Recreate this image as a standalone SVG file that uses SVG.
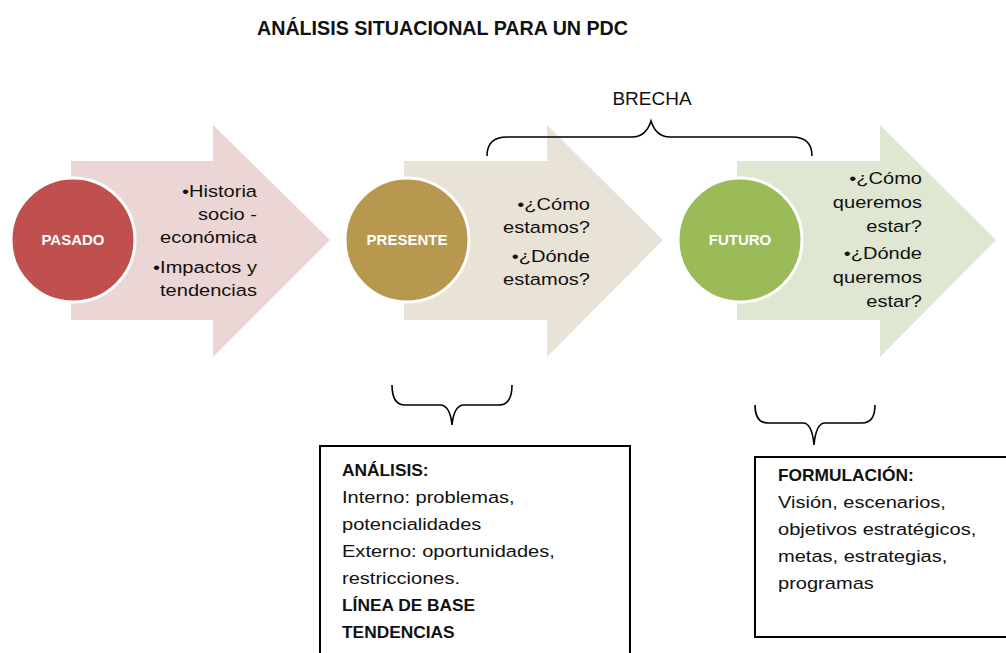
<svg xmlns="http://www.w3.org/2000/svg" width="1006" height="653" viewBox="0 0 1006 653">
<style>
.t{font-family:"Liberation Sans",Arial,sans-serif;font-size:17px;fill:#111}
.b{font-weight:bold}
.cl{font-family:"Liberation Sans",Arial,sans-serif;font-size:15px;font-weight:bold;fill:#fff;text-anchor:middle}
.circ{stroke:#fff;stroke-width:3}
.br{fill:none;stroke:#000;stroke-width:1.6}
.box{fill:#fff;stroke:#000;stroke-width:2}
</style>
<rect width="1006" height="653" fill="#fff"/>
<text x="257" y="35" font-family="Liberation Sans,Arial,sans-serif" font-weight="bold" font-size="21" textLength="371" lengthAdjust="spacingAndGlyphs" fill="#111">ANÁLISIS SITUACIONAL PARA UN PDC</text>

<g id="pasado">
<polygon points="71,161 213,161 213,125 330,240 213,357 213,320 71,320" fill="#ebd5d5"/>
<circle class="circ" cx="73" cy="240" r="62" fill="#c0504d"/>
<text class="cl" x="73" y="245">PASADO</text>
<g transform="translate(257,0) scale(1.18,1)" text-anchor="end">
<text class="t" x="0" y="197">•Historia</text>
<text class="t" x="0" y="220">socio -</text>
<text class="t" x="0" y="243">económica</text>
<text class="t" x="0" y="273">•Impactos y</text>
<text class="t" x="0" y="296">tendencias</text>
</g>
</g>

<g id="presente">
<polygon points="404,161 547,161 547,125 663,240 547,357 547,320 404,320" fill="#e8e3d6"/>
<circle class="circ" cx="407" cy="240" r="62" fill="#b8974f"/>
<text class="cl" x="407" y="245">PRESENTE</text>
<g transform="translate(590,0) scale(1.18,1)" text-anchor="end">
<text class="t" x="0" y="210">•¿Cómo</text>
<text class="t" x="0" y="233">estamos?</text>
<text class="t" x="0" y="262">•¿Dónde</text>
<text class="t" x="0" y="285">estamos?</text>
</g>
</g>

<g id="futuro">
<polygon points="737,161 880,161 880,125 996,240 880,357 880,320 737,320" fill="#dfe7d2"/>
<circle class="circ" cx="740" cy="240" r="62" fill="#9bbb59"/>
<text class="cl" x="740" y="245">FUTURO</text>
<g transform="translate(922,0) scale(1.18,1)" text-anchor="end">
<text class="t" x="0" y="184">•¿Cómo</text>
<text class="t" x="0" y="208">queremos</text>
<text class="t" x="0" y="232">estar?</text>
<text class="t" x="0" y="259">•¿Dónde</text>
<text class="t" x="0" y="283">queremos</text>
<text class="t" x="0" y="307">estar?</text>
</g>
</g>

<g id="brecha">
<text x="652" y="105" font-family="Liberation Sans,Arial,sans-serif" font-size="19" fill="#111" text-anchor="middle">BRECHA</text>
</g>

<g id="connectors">
<path class="br" d="M487,156 Q487,137 507,137 L632,137 Q646,137 651,121 Q656,137 670,137 L792,137 Q812,137 812,156"/>
<path class="br" d="M392,385 Q392,405 405,405 L440,405 Q450,405 452,425 Q454,405 464,405 L499,405 Q512,405 512,385"/>
<path class="br" d="M755,405 Q755,423 768,423 L803,423 Q812,423 814,445 Q816,423 825,423 L862,423 Q875,423 875,405"/>
</g>

<g id="analisis">
<path class="box" d="M320,653 L320,446 L630,446 L630,653"/>
<g transform="translate(342,0) scale(1.02,1)">
<text class="t b" x="0" y="476">ANÁLISIS:</text>
<text class="t b" x="0" y="611">LÍNEA DE BASE</text>
<text class="t b" x="0" y="638">TENDENCIAS</text>
</g>
<g transform="translate(342,0) scale(1.18,1)">
<text class="t" x="0" y="503">Interno: problemas,</text>
<text class="t" x="0" y="530">potencialidades</text>
<text class="t" x="0" y="557">Externo: oportunidades,</text>
<text class="t" x="0" y="584">restricciones.</text>
</g>
</g>

<g id="formulacion">
<path class="box" d="M1010,457 L755,457 L755,637 L1010,637"/>
<g transform="translate(778,0) scale(1.02,1)">
<text class="t b" x="0" y="481">FORMULACIÓN:</text>
</g>
<g transform="translate(778,0) scale(1.18,1)">
<text class="t" x="0" y="508">Visión, escenarios,</text>
<text class="t" x="0" y="535">objetivos estratégicos,</text>
<text class="t" x="0" y="562">metas, estrategias,</text>
<text class="t" x="0" y="589">programas</text>
</g>
</g>
</svg>
